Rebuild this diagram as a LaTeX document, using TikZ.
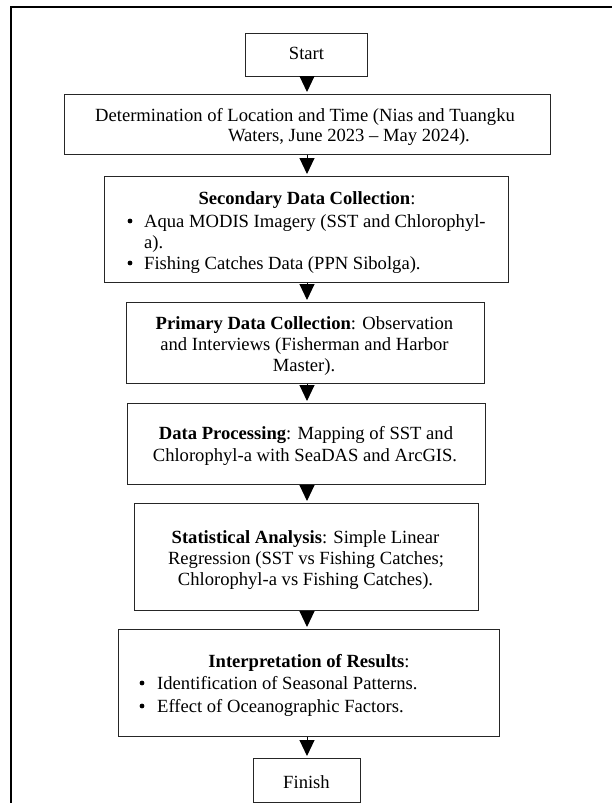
\documentclass[tikz,border=0pt]{standalone}
\usepackage{fontspec}
\setmainfont{Liberation Serif}
\usetikzlibrary{arrows.meta}
\begin{document}
\begin{tikzpicture}[x=1pt,y=-1pt,
  box/.style={draw=black!85, line width=1pt, inner sep=0pt},
  txt/.style={anchor=base, inner sep=0pt, font=\fontsize{18.6}{21}\selectfont},
  ltxt/.style={anchor=base west, inner sep=0pt, font=\fontsize{18.6}{21}\selectfont},
  bul/.style={circle, fill=black, inner sep=0pt, minimum size=4.8pt},
  arr/.style={line width=1pt, -{Triangle[width=15pt,length=16pt]}, shorten >=1.5pt}]
\useasboundingbox (0,0) rectangle (611,803);
% outer frame
\draw[line width=2.4pt] (11,830) -- (11,7) -- (630,7);
\coordinate (axis) at (307,0);
% boxes
\node[box, minimum width=122pt, minimum height=43pt] (start) at (306,54.5) {};
\node[box, minimum width=486pt, minimum height=60pt] (det) at (307,124) {};
\node[box, minimum width=404pt, minimum height=106pt] (sec) at (306.5,229) {};
\node[box, minimum width=358pt, minimum height=81pt] (pri) at (305,342.5) {};
\node[box, minimum width=358pt, minimum height=81pt] (dp) at (306,443.5) {};
\node[box, minimum width=343.5pt, minimum height=107pt] (stat) at (306.25,556.5) {};
\node[box, minimum width=381pt, minimum height=107pt] (interp) at (309,682.5) {};
\node[box, minimum width=107pt, minimum height=44pt] (finish) at (306.5,780) {};
% texts
\node[txt] (tstart) at (306.5,59) {Start};
\node[txt] (tdet1) at (305,121) {Determination of Location and Time (Nias and Tuangku};
\node[txt] (tdet2) at (349,141) {Waters, June 2023 -- May 2024).};
\node[txt] (tsec) at (307,204) {\textbf{Secondary Data Collection}:};
\node[bul] (bs1) at (130,221) {};
\node[ltxt] (ts1) at (144,227) {Aqua MODIS Imagery (SST and Chlorophyl-};
\node[ltxt] (ts2) at (144,248) {a).};
\node[bul] (bs2) at (130,263) {};
\node[ltxt] (ts3) at (144,269) {Fishing Catches Data (PPN Sibolga).};
\node[txt] (tpri1) at (304.5,329) {\textbf{Primary Data Collection}: Observation};
\node[txt] (tpri2) at (304.5,350) {and Interviews (Fisherman and Harbor};
\node[txt] (tpri3) at (304,371) {Master).};
\node[txt] (tdp1) at (306,439) {\textbf{Data Processing}: Mapping of SST and};
\node[txt] (tdp2) at (305,461) {Chlorophyl-a with SeaDAS and ArcGIS.};
\node[txt] (tst1) at (305.5,543) {\textbf{Statistical Analysis}: Simple Linear};
\node[txt] (tst2) at (306,564) {Regression (SST vs Fishing Catches;};
\node[txt] (tst3) at (305.5,585) {Chlorophyl-a vs Fishing Catches).};
\node[txt] (tint) at (309,667) {\textbf{Interpretation of Results}:};
\node[bul] (bi1) at (142,683) {};
\node[ltxt] (ti1) at (157,689) {Identification of Seasonal Patterns.};
\node[bul] (bi2) at (142,706) {};
\node[ltxt] (ti2) at (157,712) {Effect of Oceanographic Factors.};
\node[txt] (tfin) at (306.5,788) {Finish};
% arrows
\draw[arr] (start.south -| axis) -- (det.north -| axis);
\draw[arr] (det.south -| axis) -- (sec.north -| axis);
\draw[arr] (sec.south -| axis) -- (pri.north -| axis);
\draw[arr] (pri.south -| axis) -- (dp.north -| axis);
\draw[arr] (dp.south -| axis) -- (stat.north -| axis);
\draw[arr] (stat.south -| axis) -- (interp.north -| axis);
\draw[arr] (interp.south -| axis) -- (finish.north -| axis);
\end{tikzpicture}
\end{document}
